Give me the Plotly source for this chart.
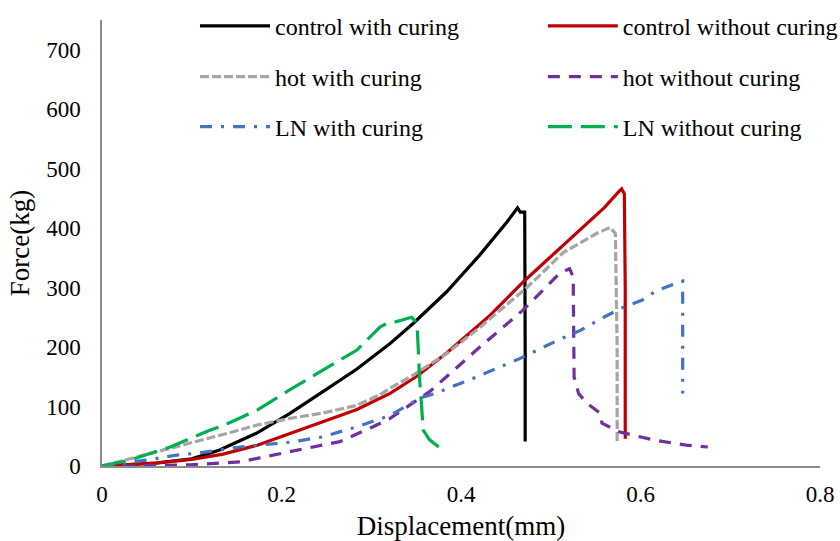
import plotly.graph_objects as go

# ---- data ----
control_with_x = [0, 0.03, 0.06, 0.10, 0.131, 0.172, 0.209, 0.247, 0.284, 0.321, 0.347, 0.384, 0.421, 0.451, 0.463, 0.466, 0.471, 0.4715, 0.4715]
control_with_y = [0, 2, 5, 12, 27, 55, 88, 126, 163, 206, 240, 293, 355, 410, 434, 427, 427, 200, 41]

control_without_x = [0, 0.03, 0.06, 0.10, 0.135, 0.173, 0.209, 0.246, 0.284, 0.321, 0.35, 0.384, 0.43, 0.471, 0.50, 0.533, 0.56, 0.575, 0.579, 0.582, 0.583, 0.583]
control_without_y = [0, 2, 5, 11, 20, 35, 54, 74, 95, 122, 150, 190, 250, 312, 352, 396, 435, 460, 466, 458, 300, 46]

hot_with_x = [0, 0.031, 0.061, 0.106, 0.14, 0.173, 0.209, 0.246, 0.284, 0.31, 0.321, 0.347, 0.384, 0.421, 0.474, 0.514, 0.551, 0.566, 0.572, 0.574, 0.574]
hot_with_y = [0, 12, 24, 41, 55, 69, 80, 89, 102, 120, 131, 153, 189, 233, 301, 359, 391, 401, 391, 200, 39]

hot_without_x = [0, 0.031, 0.098, 0.154, 0.209, 0.265, 0.302, 0.321, 0.365, 0.421, 0.469, 0.51, 0.521, 0.525, 0.526, 0.531, 0.54, 0.555, 0.557, 0.577, 0.614, 0.651, 0.675]
hot_without_y = [0, 0, 2, 7, 24, 41, 66, 80, 125, 200, 262, 324, 332, 318, 150, 122, 106, 89, 72, 57, 44, 35, 32]

ln_with_x = [0, 0.05, 0.081, 0.109, 0.154, 0.209, 0.246, 0.284, 0.321, 0.354, 0.371, 0.418, 0.466, 0.51, 0.533, 0.555, 0.581, 0.602, 0.618, 0.647, 0.647, 0.647]
ln_with_y = [0, 10, 18, 22, 32, 40, 49, 66, 85, 114, 122, 150, 181, 213, 228, 247, 267, 279, 295, 311, 200, 122]

ln_without_x = [0, 0.031, 0.076, 0.12, 0.135, 0.173, 0.209, 0.246, 0.284, 0.31, 0.318, 0.326, 0.345, 0.351, 0.354, 0.358, 0.365, 0.382]
ln_without_y = [0, 10, 32, 60, 68, 94, 128, 161, 195, 234, 240, 242, 250, 240, 144, 60, 44, 24]

names = ["control with curing", "control without curing", "hot with curing",
         "hot without curing", "LN with curing", "LN without curing"]
colors = ["#000000", "#C00000", "#A5A5A5", "#7030A0", "#4472C4", "#00B050"]
dashes = ["solid", "solid", "9px,3px", "12px,9px", "12px,9px,3px,9px", "24px,9px"]

x_ticks = [0, 0.2, 0.4, 0.6, 0.8]
x_tick_text = ["0", "0.2", "0.4", "0.6", "0.8"]
y_ticks = [0, 100, 200, 300, 400, 500, 600, 700]

series = [(control_with_x, control_with_y), (control_without_x, control_without_y),
          (hot_with_x, hot_with_y), (hot_without_x, hot_without_y),
          (ln_with_x, ln_with_y), (ln_without_x, ln_without_y)]

FONT = "Liberation Serif"
fig = go.Figure()
legend_ids = ["legend", "legend2", "legend3", "legend4", "legend5", "legend6"]
for i, ((xs, ys), nm, c, d) in enumerate(zip(series, names, colors, dashes)):
    fig.add_trace(go.Scatter(x=xs, y=ys, mode="lines", name=nm, showlegend=True,
                             line=dict(color=c, width=3.2, dash=d),
                             legend=legend_ids[i]))

# legend placement (2 columns x 3 rows)
col_x = [0.1295, 0.614]
row_y = [0.986, 0.872, 0.760]
leg_layout = {}
for i, lid in enumerate(legend_ids):
    leg_layout[lid] = dict(x=col_x[i % 2], y=row_y[i // 2], xanchor="left", yanchor="middle",
                           bgcolor="rgba(0,0,0,0)", font=dict(family=FONT, size=24, color="#000"),
                           itemwidth=70)

fig.update_layout(
    width=840, height=541,
    showlegend=True,
    margin=dict(l=102, r=20, t=20, b=75, autoexpand=False),
    paper_bgcolor="white", plot_bgcolor="white",
    font=dict(family=FONT, size=23, color="#000"),
    xaxis=dict(range=[0, 0.8], tickvals=x_ticks, ticktext=x_tick_text, showgrid=False,
               zeroline=False, showline=True, linecolor="#8c8c8c", linewidth=1.5,
               ticks="", ticklabelstandoff=7,
               title=dict(text="Displacement(mm)", font=dict(family=FONT, size=27), standoff=20)),
    yaxis=dict(range=[0, 750], tickvals=y_ticks, showgrid=False, zeroline=False,
               showline=True, linecolor="#8c8c8c", linewidth=1.5, ticks="",
               ticklabelstandoff=15,
               title=dict(text="Force(kg)", font=dict(family=FONT, size=27), standoff=9)),
    **leg_layout,
)

fig.write_html("out.html", config={"displayModeBar": False},
               post_script="document.body.style.margin='0';document.body.style.overflow='hidden';")
